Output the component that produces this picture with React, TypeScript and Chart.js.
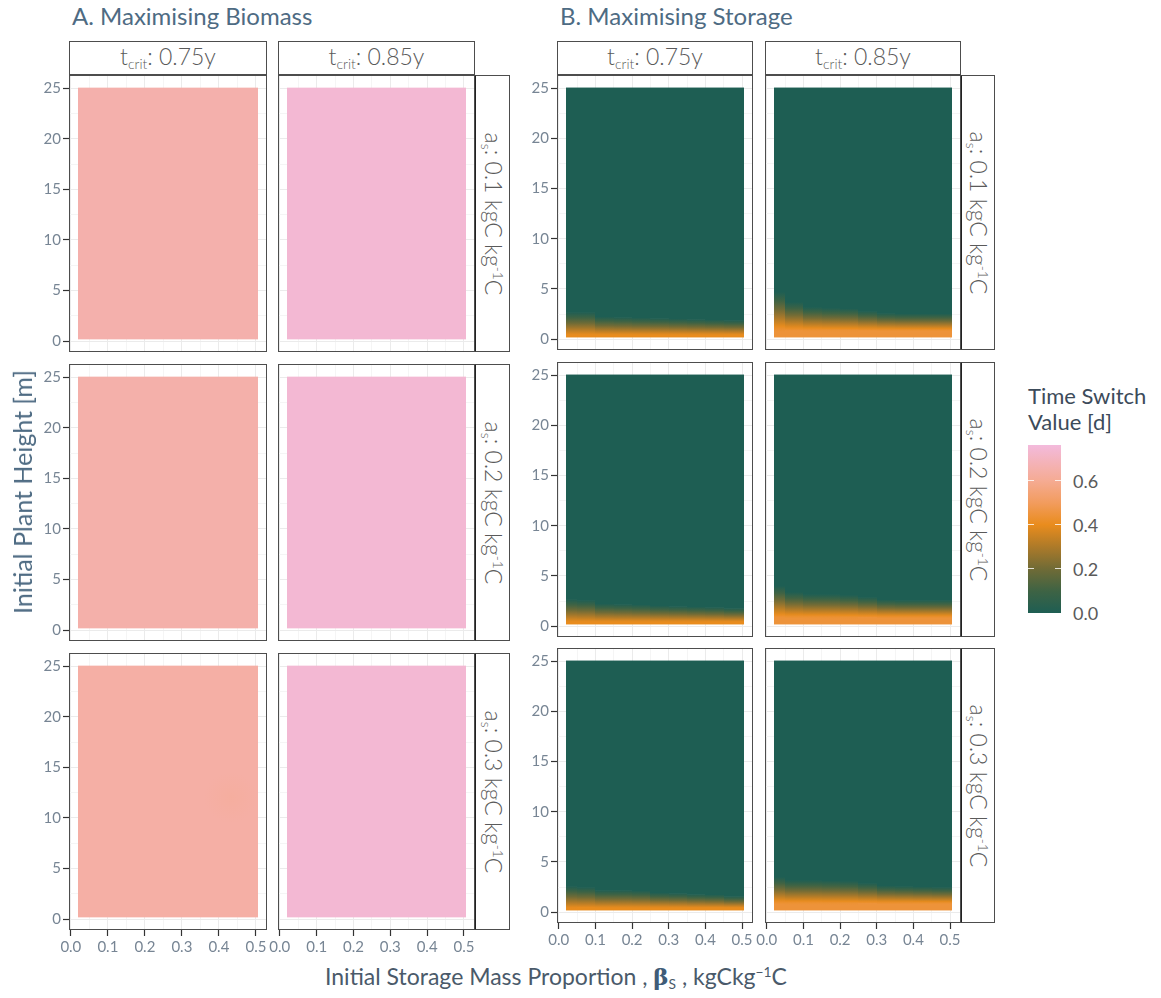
import React, { useEffect, useRef } from 'react';
import { Chart, registerables } from 'chart.js';
Chart.register(...registerables);

// ---------------- data ----------------
const tcritLabels = ['0.75y', '0.85y'];
const asLabels = ['0.1', '0.2', '0.3'];
const xTickValues = [0, 0.1, 0.2, 0.3, 0.4, 0.5];
const xMinorValues = [0.05, 0.15, 0.25, 0.35, 0.45];
const yTickValues = [0, 5, 10, 15, 20, 25];
const yMinorValues = [2.5, 7.5, 12.5, 17.5, 22.5];
const legendTicks = [0, 0.2, 0.4, 0.6];
const xRange = [-0.005, 0.53];
const yRange = [-1.08, 26.3];
const tileX = [0.02, 0.505];
const tileY = [0.17, 25.05];
const columnEdges = [0.02, 0.05, 0.1, 0.15, 0.2, 0.25, 0.3, 0.35, 0.4, 0.45, 0.505];

// colour scale (value -> colour)
const scaleValues = [0, 0.1, 0.2, 0.3, 0.4, 0.5, 0.6, 0.76];
const scaleColors = ['#1e5e53', '#3e6344', '#706b36', '#ad7a29', '#e98c1d', '#f29c5e', '#f5ab93', '#f3badb'];

// A. Maximising Biomass: time switch value per a_s row
const biomassT075 = [0.656, 0.652, 0.64];
const biomassT085 = [0.742, 0.742, 0.742];
const biomassPatchesAs03T075 = [{ x0: 0.36, x1: 0.505, y0: 9.5, y1: 14.5, v: 0.62 }];

// B. Maximising Storage: bottom value, solid-orange height, and height where value reaches 0 (per x column)
const storageBaseT075 = 0.4;
const storageBaseT085 = 0.445;
const storageSolidT075 = 0.45;
const storageSolidT085 = 0.85;
const onsetAs01T075 = [2.7, 2.7, 2.25, 2.2, 2.15, 2.1, 2.05, 2.0, 1.95, 1.9];
const onsetAs01T085 = [4.7, 3.7, 3.2, 3.1, 3.05, 2.8, 2.6, 2.55, 2.55, 2.55];
const onsetAs02T075 = [2.7, 2.6, 2.25, 2.2, 2.15, 2.05, 2.0, 1.95, 1.9, 1.8];
const onsetAs02T085 = [4.0, 3.4, 3.2, 3.2, 3.1, 2.9, 2.65, 2.6, 2.6, 2.6];
const onsetAs03T075 = [2.6, 2.5, 2.2, 2.2, 2.15, 1.95, 1.9, 1.8, 1.75, 1.6];
const onsetAs03T085 = [3.5, 3.2, 3.2, 3.15, 3.1, 2.9, 2.65, 2.6, 2.55, 2.5];

// ---------------- helpers ----------------
type Patch = { x0: number; x1: number; y0: number; y1: number; v: number };
type Spec = {
  kind: 'biomass' | 'storage';
  base: number;
  solid?: number;
  onset?: number[];
  patches?: Patch[];
};

function hexToRgb(h: string) {
  const n = parseInt(h.slice(1), 16);
  return [(n >> 16) & 255, (n >> 8) & 255, n & 255];
}
const scaleRgb = scaleColors.map(hexToRgb);
function colour(v: number, alpha = 1) {
  let rgb = scaleRgb[scaleRgb.length - 1];
  if (v <= scaleValues[0]) rgb = scaleRgb[0];
  else {
    for (let i = 1; i < scaleValues.length; i++) {
      if (v <= scaleValues[i]) {
        const t = (v - scaleValues[i - 1]) / (scaleValues[i] - scaleValues[i - 1]);
        const a = scaleRgb[i - 1], b = scaleRgb[i];
        rgb = [0, 1, 2].map((k) => Math.round(a[k] + (b[k] - a[k]) * t));
        break;
      }
    }
  }
  return `rgba(${rgb[0]},${rgb[1]},${rgb[2]},${alpha})`;
}

const isMajorX = (v: number) => xTickValues.some((t) => Math.abs(t - v) < 1e-9);
const isMajorY = (v: number) => yTickValues.some((t) => Math.abs(t - v) < 1e-9);

const heatPlugin = (spec: Spec) => ({
  id: 'heat',
  beforeDatasetsDraw(chart: any) {
    const { ctx, scales } = chart;
    const x = scales.x, y = scales.y;
    const px = (v: number) => Math.round(x.getPixelForValue(v));
    const py = (v: number) => y.getPixelForValue(v);
    ctx.save();
    if (spec.kind === 'biomass') {
      ctx.fillStyle = colour(spec.base);
      ctx.fillRect(px(tileX[0]), py(tileY[1]), px(tileX[1]) - px(tileX[0]), py(tileY[0]) - py(tileY[1]));
    } else {
      const onset = spec.onset as number[];
      const solid = spec.solid as number;
      for (let i = 0; i < onset.length; i++) {
        const x0 = px(columnEdges[i]);
        const x1 = px(columnEdges[i + 1]);
        const h = onset[i];
        const top = py(tileY[1]);
        const hp = py(h);
        const bot = py(tileY[0]);
        ctx.fillStyle = colour(0);
        ctx.fillRect(x0, top, x1 - x0, hp - top + 0.5);
        const g = ctx.createLinearGradient(0, bot, 0, hp);
        const N = 16;
        for (let k = 0; k <= N; k++) {
          const yv = tileY[0] + ((h - tileY[0]) * k) / N;
          const val = yv <= solid ? spec.base : (spec.base * (h - yv)) / (h - solid);
          g.addColorStop(k / N, colour(val));
        }
        ctx.fillStyle = g;
        ctx.fillRect(x0, hp, x1 - x0, bot - hp);
      }
    }
    (spec.patches || []).forEach((p) => {
      // soft patch: radial fade
      const cx = (x.getPixelForValue(p.x0) + x.getPixelForValue(p.x1)) / 2;
      const cy = (py(p.y0) + py(p.y1)) / 2;
      const rx = Math.abs(x.getPixelForValue(p.x1) - x.getPixelForValue(p.x0)) / 2;
      const ry = Math.abs(py(p.y1) - py(p.y0)) / 2;
      ctx.save();
      ctx.beginPath();
      ctx.rect(px(tileX[0]), py(tileY[1]), px(tileX[1]) - px(tileX[0]), py(tileY[0]) - py(tileY[1]));
      ctx.clip();
      ctx.translate(cx, cy);
      ctx.scale(1, ry / rx);
      const g = ctx.createRadialGradient(0, 0, 0, 0, 0, rx);
      g.addColorStop(0, colour(p.v, 0.7));
      g.addColorStop(1, colour(p.v, 0));
      ctx.fillStyle = g;
      ctx.fillRect(-rx, -rx, rx * 2, rx * 2);
      ctx.restore();
    });
    ctx.restore();
  },
  afterDraw(chart: any) {
    const { ctx, chartArea } = chart;
    ctx.save();
    ctx.strokeStyle = '#4d4d4d';
    ctx.lineWidth = 1;
    ctx.strokeRect(
      Math.round(chartArea.left) + 0.5,
      Math.round(chartArea.top) + 0.5,
      Math.round(chartArea.right - chartArea.left) - 1,
      Math.round(chartArea.bottom - chartArea.top) - 1
    );
    ctx.restore();
  },
});

const PADL_Y = 48;
const PADL = 14;
const PADR = 14;
const PADT = 2;
const AXIS_H = 30;

type PanelProps = { left: number; top: number; width: number; height: number; showY: boolean; showX: boolean; spec: Spec };

function Panel({ left, top, width, height, showY, showX, spec }: PanelProps) {
  const ref = useRef<HTMLCanvasElement>(null);
  const padL = showY ? PADL_Y : PADL;
  const cw = width + padL + PADR;
  const ch = height + PADT + (showX ? AXIS_H : PADT);
  useEffect(() => {
    const canvas = ref.current as HTMLCanvasElement;
    const tickFont = { family: 'Lato', size: 15, weight: 'normal' as const };
    const chart = new Chart(canvas, {
      type: 'scatter',
      data: { datasets: [{ data: [], pointRadius: 0 }] },
      options: {
        responsive: false,
        animation: false,
        events: [],
        layout: {
          autoPadding: false,
          padding: { left: showY ? 0 : PADL, right: PADR, top: PADT, bottom: showX ? 0 : PADT },
        },
        plugins: { legend: { display: false }, tooltip: { enabled: false } },
        scales: {
          x: {
            type: 'linear',
            min: xRange[0],
            max: xRange[1],
            afterBuildTicks: (s: any) => {
              s.ticks = [...xTickValues, ...xMinorValues].sort((a, b) => a - b).map((v) => ({ value: v }));
            },
            afterFit: (s: any) => {
              s.height = showX ? AXIS_H : 0;
              s.paddingLeft = 0;
              s.paddingRight = 0;
            },
            border: { display: false },
            grid: {
              color: (c: any) => (c.tick && isMajorX(c.tick.value) ? '#ebebeb' : '#f5f5f5'),
              lineWidth: 1,
              drawTicks: showX,
              tickLength: 6,
              tickWidth: 1.2,
              tickColor: (c: any) => (c.tick && isMajorX(c.tick.value) ? '#333333' : 'rgba(0,0,0,0)'),
            },
            ticks: {
              display: showX,
              autoSkip: false,
              maxRotation: 0,
              minRotation: 0,
              padding: 2,
              color: '#778594',
              font: tickFont,
              callback: (v: any) => (isMajorX(Number(v)) ? Number(v).toFixed(1) : ''),
            },
          },
          y: {
            type: 'linear',
            min: yRange[0],
            max: yRange[1],
            afterBuildTicks: (s: any) => {
              s.ticks = [...yTickValues, ...yMinorValues].sort((a, b) => a - b).map((v) => ({ value: v }));
            },
            afterFit: (s: any) => {
              s.width = showY ? PADL_Y : 0;
              s.paddingTop = 0;
              s.paddingBottom = 0;
            },
            border: { display: false },
            grid: {
              color: (c: any) => (c.tick && isMajorY(c.tick.value) ? '#ebebeb' : '#f5f5f5'),
              lineWidth: 1,
              drawTicks: showY,
              tickLength: 6,
              tickWidth: 1.2,
              tickColor: (c: any) => (c.tick && isMajorY(c.tick.value) ? '#333333' : 'rgba(0,0,0,0)'),
            },
            ticks: {
              display: showY,
              autoSkip: false,
              padding: 2,
              color: '#778594',
              font: tickFont,
              callback: (v: any) => (isMajorY(Number(v)) ? String(v) : ''),
            },
          },
        },
      } as any,
      plugins: [heatPlugin(spec)],
    });
    return () => chart.destroy();
  }, []);
  return (
    <canvas
      ref={ref}
      width={cw}
      height={ch}
      style={{ position: 'absolute', left: left - padL, top: top - PADT, width: cw, height: ch }}
    />
  );
}

const stripText: React.CSSProperties = {
  fontFamily: 'Lato',
  fontWeight: 300,
  fontSize: 23,
  color: '#5a5a5a',
  whiteSpace: 'nowrap',
};

function TopStrip({ left, width, label }: { left: number; width: number; label: string }) {
  return (
    <div
      style={{
        position: 'absolute',
        left,
        top: 41,
        width,
        height: 34,
        boxSizing: 'border-box',
        border: '1px solid #4d4d4d',
        background: '#fff',
        display: 'flex',
        alignItems: 'center',
        justifyContent: 'center',
        ...stripText,
      }}
    >
      <span style={{ position: 'relative', top: -1 }}>
        t<span style={{ fontSize: '0.6em', verticalAlign: '-0.3em' }}>crit</span>: {label}
      </span>
    </div>
  );
}

function RightStrip({ left, top, width, height, label }: { left: number; top: number; width: number; height: number; label: string }) {
  return (
    <div
      style={{
        position: 'absolute',
        left,
        top,
        width,
        height,
        boxSizing: 'border-box',
        border: '1px solid #4d4d4d',
        borderLeft: '2px solid #222',
        background: '#fff',
      }}
    >
      <div
        style={{
          position: 'absolute',
          left: '50%',
          top: '50%',
          transform: 'translate(-50%, -50%) rotate(90deg)',
          ...stripText,
          fontSize: 23,
        }}
      >
        a<span style={{ fontSize: '0.6em', verticalAlign: '-0.3em' }}>s</span>: {label} kgC kg
        <span style={{ fontSize: '0.6em', verticalAlign: '0.55em' }}>-1</span>C
      </div>
    </div>
  );
}

// layout
const A_COLS = [
  { left: 69, width: 198 },
  { left: 278, width: 197 },
];
const B_COLS = [
  { left: 557, width: 196 },
  { left: 765, width: 196 },
];
const A_ROWS = [75, 364, 653];
const A_H = 277;
const B_ROWS = [75, 362, 648];
const B_H = 275;

const biomassSpecs: Spec[][] = [0, 1, 2].map((r) => [
  { kind: 'biomass', base: biomassT075[r], patches: r === 2 ? biomassPatchesAs03T075 : [] },
  { kind: 'biomass', base: biomassT085[r] },
]);
const storageSpecs: Spec[][] = [
  [
    { kind: 'storage', base: storageBaseT075, solid: storageSolidT075, onset: onsetAs01T075 },
    { kind: 'storage', base: storageBaseT085, solid: storageSolidT085, onset: onsetAs01T085 },
  ],
  [
    { kind: 'storage', base: storageBaseT075, solid: storageSolidT075, onset: onsetAs02T075 },
    { kind: 'storage', base: storageBaseT085, solid: storageSolidT085, onset: onsetAs02T085 },
  ],
  [
    { kind: 'storage', base: storageBaseT075, solid: storageSolidT075, onset: onsetAs03T075 },
    { kind: 'storage', base: storageBaseT085, solid: storageSolidT085, onset: onsetAs03T085 },
  ],
];

const LEG_TOP = 445;
const LEG_BOTTOM = 613;
const LEG_MAX = 0.762;

export default function App() {
  const panels: React.ReactNode[] = [];
  [0, 1, 2].forEach((r) => {
    [0, 1].forEach((c) => {
      panels.push(
        <Panel
          key={`a${r}${c}`}
          left={A_COLS[c].left}
          top={A_ROWS[r]}
          width={A_COLS[c].width}
          height={A_H}
          showY={c === 0}
          showX={r === 2}
          spec={biomassSpecs[r][c]}
        />
      );
      panels.push(
        <Panel
          key={`b${r}${c}`}
          left={B_COLS[c].left}
          top={B_ROWS[r]}
          width={B_COLS[c].width}
          height={B_H}
          showY={c === 0}
          showX={r === 2}
          spec={storageSpecs[r][c]}
        />
      );
    });
  });

  const gradStops = scaleValues
    .map((v, i) => `${scaleColors[i]} ${((v / LEG_MAX) * 100).toFixed(1)}%`)
    .join(', ');
  const legPx = (v: number) => LEG_BOTTOM - (v / LEG_MAX) * (LEG_BOTTOM - LEG_TOP);

  const titleStyle: React.CSSProperties = {
    position: 'absolute',
    top: 1,
    fontFamily: 'Lato',
    fontSize: 24,
    color: '#4e6b83',
    whiteSpace: 'nowrap',
  };

  return (
    <div style={{ position: 'absolute', left: 0, top: 0, width: 1161, height: 998, background: '#fff', overflow: 'hidden' }}>
      <div style={{ ...titleStyle, left: 72 }}>A. Maximising Biomass</div>
      <div style={{ ...titleStyle, left: 560 }}>B. Maximising Storage</div>

      {A_COLS.map((col, c) => (
        <TopStrip key={`ta${c}`} left={col.left} width={col.width} label={tcritLabels[c]} />
      ))}
      {B_COLS.map((col, c) => (
        <TopStrip key={`tb${c}`} left={col.left} width={col.width} label={tcritLabels[c]} />
      ))}
      {A_ROWS.map((t, r) => (
        <RightStrip key={`ra${r}`} left={474} top={t} width={36} height={A_H} label={asLabels[r]} />
      ))}
      {B_ROWS.map((t, r) => (
        <RightStrip key={`rb${r}`} left={960} top={t} width={35} height={B_H} label={asLabels[r]} />
      ))}

      {panels}

      <div
        style={{
          position: 'absolute',
          left: 22,
          top: 492,
          transform: 'translate(-50%, -50%) rotate(-90deg)',
          fontFamily: 'Lato',
          fontSize: 25,
          color: '#4e6b83',
          whiteSpace: 'nowrap',
        }}
      >
        Initial Plant Height [m]
      </div>
      <div
        style={{
          position: 'absolute',
          left: 556,
          top: 977,
          transform: 'translate(-50%, -50%)',
          fontFamily: 'Lato',
          fontSize: 23,
          color: '#4a5a6a',
          whiteSpace: 'nowrap',
        }}
      >
        Initial Storage Mass Proportion ,{' '}
        <span style={{ fontFamily: 'DejaVu Serif', fontWeight: 'bold', color: '#3f5c78' }}>β</span>
        <span style={{ fontSize: '0.6em', verticalAlign: '-0.3em' }}>S</span> , kgCkg
        <span style={{ fontSize: '0.6em', verticalAlign: '0.6em' }}>−1</span>C
      </div>

      <div
        style={{
          position: 'absolute',
          left: 1028,
          top: 383,
          fontFamily: 'Lato',
          fontSize: 22,
          lineHeight: '26px',
          color: '#3c4b5a',
          whiteSpace: 'nowrap',
        }}
      >
        Time Switch
        <br />
        Value [d]
      </div>
      <div
        style={{
          position: 'absolute',
          left: 1028,
          top: LEG_TOP,
          width: 33,
          height: LEG_BOTTOM - LEG_TOP,
          background: `linear-gradient(to top, ${gradStops})`,
        }}
      />
      {legendTicks.map((v) => (
        <React.Fragment key={`lt${v}`}>
          {v > 0 && (
            <>
              <div style={{ position: 'absolute', left: 1028, top: legPx(v) - 0.5, width: 6, height: 1, background: 'rgba(255,255,255,0.8)' }} />
              <div style={{ position: 'absolute', left: 1055, top: legPx(v) - 0.5, width: 6, height: 1, background: 'rgba(255,255,255,0.8)' }} />
            </>
          )}
          <div
            style={{
              position: 'absolute',
              left: 1073,
              top: legPx(v),
              transform: 'translateY(-50%)',
              fontFamily: 'Lato',
              fontSize: 18,
              color: '#5a5a5a',
            }}
          >
            {v.toFixed(1)}
          </div>
        </React.Fragment>
      ))}
    </div>
  );
}
